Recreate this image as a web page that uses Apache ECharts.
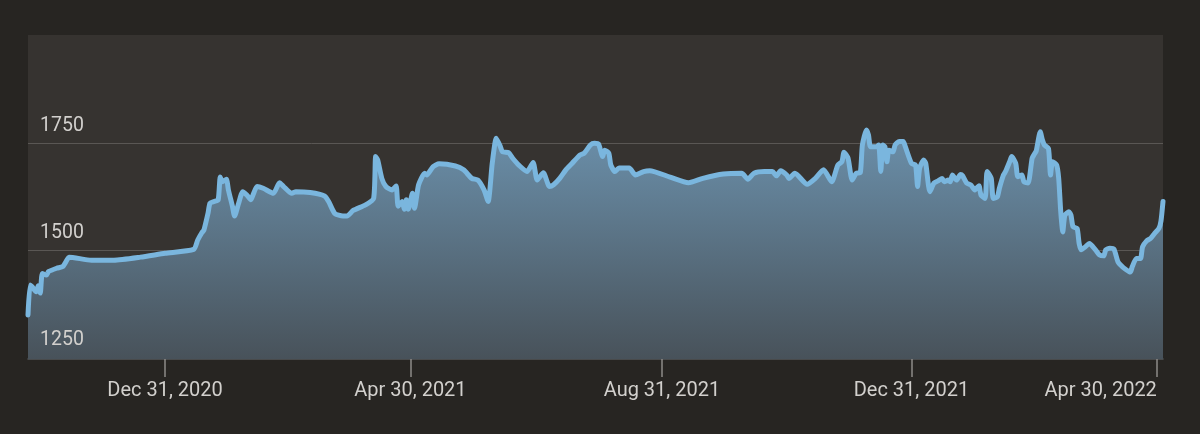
<!DOCTYPE html>
<html>
<head>
<meta charset="utf-8">
<script src="https://cdn.jsdelivr.net/npm/echarts@6/dist/echarts.min.js"></script>
<style>
  html, body { margin: 0; padding: 0; background: #272522; }
  #chart { width: 1200px; height: 434px; }
</style>
</head>
<body>
<div id="chart"></div>
<script>
// ---- data ----
const dates = [
  '2020-10-25','2020-10-26','2020-10-27','2020-10-29','2020-10-30','2020-10-31',
  '2020-11-01','2020-11-03','2020-11-04','2020-11-08','2020-11-11','2020-11-13','2020-11-14',
  '2020-11-25','2020-12-06','2020-12-19','2020-12-31',
  '2021-01-14','2021-01-16','2021-01-18','2021-01-19','2021-01-21','2021-01-22','2021-01-24',
  '2021-01-26','2021-01-27','2021-01-28','2021-01-30','2021-01-31',
  '2021-02-02','2021-02-03','2021-02-05','2021-02-07','2021-02-09','2021-02-11','2021-02-12',
  '2021-02-14','2021-02-17','2021-02-22','2021-02-25','2021-02-27',
  '2021-03-03','2021-03-05','2021-03-12','2021-03-19','2021-03-21','2021-03-24','2021-03-28','2021-03-30',
  '2021-04-02','2021-04-08','2021-04-12','2021-04-13','2021-04-14','2021-04-16','2021-04-18',
  '2021-04-21','2021-04-23','2021-04-24','2021-04-26','2021-04-27','2021-04-28','2021-04-29',
  '2021-05-01','2021-05-02','2021-05-04','2021-05-07','2021-05-08','2021-05-11','2021-05-14',
  '2021-05-22','2021-05-26','2021-05-30',
  '2021-06-02','2021-06-05','2021-06-07','2021-06-09','2021-06-11','2021-06-13','2021-06-14',
  '2021-06-17','2021-06-19','2021-06-22','2021-06-26','2021-06-29',
  '2021-07-01','2021-07-04','2021-07-07','2021-07-09','2021-07-12','2021-07-15','2021-07-18',
  '2021-07-22','2021-07-24','2021-07-27','2021-07-29','2021-07-31',
  '2021-08-02','2021-08-03','2021-08-05','2021-08-06','2021-08-08','2021-08-10','2021-08-15',
  '2021-08-18','2021-08-22','2021-08-25',
  '2021-09-04','2021-09-13','2021-09-20','2021-09-30',
  '2021-10-09','2021-10-12','2021-10-15','2021-10-20','2021-10-24','2021-10-26','2021-10-28','2021-10-31',
  '2021-11-01','2021-11-04','2021-11-10','2021-11-14','2021-11-18','2021-11-22','2021-11-25',
  '2021-11-27','2021-11-28','2021-11-30',
  '2021-12-02','2021-12-04','2021-12-06','2021-12-07','2021-12-09','2021-12-10','2021-12-11',
  '2021-12-14','2021-12-15','2021-12-16','2021-12-17','2021-12-18','2021-12-19','2021-12-20',
  '2021-12-22','2021-12-23','2021-12-25','2021-12-27','2021-12-28','2021-12-31',
  '2022-01-02','2022-01-03','2022-01-04','2022-01-06','2022-01-07','2022-01-09','2022-01-11',
  '2022-01-13','2022-01-15','2022-01-16','2022-01-18','2022-01-19','2022-01-20','2022-01-22',
  '2022-01-24','2022-01-25','2022-01-27','2022-01-29','2022-01-31',
  '2022-02-02','2022-02-03','2022-02-05','2022-02-06','2022-02-08','2022-02-09','2022-02-11',
  '2022-02-12','2022-02-14','2022-02-15','2022-02-17','2022-02-18','2022-02-20','2022-02-21',
  '2022-02-23','2022-02-24','2022-02-26','2022-02-28',
  '2022-03-01','2022-03-02','2022-03-04','2022-03-05','2022-03-06','2022-03-08','2022-03-09',
  '2022-03-10','2022-03-12','2022-03-13','2022-03-14','2022-03-15','2022-03-16','2022-03-18',
  '2022-03-19','2022-03-20','2022-03-22','2022-03-23','2022-03-24','2022-03-26','2022-03-28','2022-03-31',
  '2022-04-02','2022-04-04','2022-04-05','2022-04-07','2022-04-09','2022-04-11','2022-04-13',
  '2022-04-14','2022-04-17','2022-04-18','2022-04-20','2022-04-22','2022-04-23','2022-04-25',
  '2022-04-27','2022-04-29','2022-05-01','2022-05-02','2022-05-03'
];
const values = [
  1349,1419,1415,1403,1417,1400,
  1446,1442,1450,1458,1462,1477,1484,
  1477,1477,1484,1493,
  1502,1524,1541,1547,1586,1610,1614,
  1618,1671,1660,1666,1641,
  1602,1580,1610,1637,1629,1618,1629,
  1649,1645,1633,1658,1649,
  1633,1637,1635,1627,1614,1586,1580,1580,
  1593,1606,1621,1719,1711,1668,1649,
  1641,1650,1603,1614,1596,1618,1596,
  1633,1598,1653,1680,1676,1695,1702,
  1697,1688,1668,
  1664,1641,1614,1703,1762,1742,1730,
  1728,1715,1699,1684,1705,
  1664,1681,1649,1653,1668,1688,1703,
  1723,1727,1746,1750,1748,
  1719,1734,1727,1699,1684,1692,1692,
  1676,1684,1686,
  1671,1658,1668,1678,
  1680,1666,1680,1684,1684,1674,1686,1676,
  1668,1680,1654,1668,1688,1660,1699,
  1707,1729,1715,
  1664,1680,1682,1746,1781,1769,1742,
  1742,1746,1684,1746,1742,1707,1734,
  1730,1746,1754,1754,1742,1703,
  1699,1649,1692,1711,1703,1637,1657,
  1662,1668,1660,1664,1660,1676,1664,
  1677,1674,1657,1653,1641,
  1651,1629,1621,1684,1668,1621,1625,
  1645,1676,1684,1707,1719,1703,1672,
  1676,1660,1657,1715,
  1724,1732,1777,1758,1746,1738,1676,
  1707,1699,1668,1590,1543,1582,1590,
  1582,1555,1551,1516,1501,1508,1516,1501,
  1489,1487,1501,1505,1503,1473,1462,
  1458,1449,1462,1481,1481,1508,1522,
  1528,1540,1551,1568,1614
];
const xStart = '2020-10-25';
const xEnd = '2022-05-03';
const tickDates = ['2020-12-31','2021-04-30','2021-08-31','2021-12-31','2022-04-30'];
const tickLabels = ['Dec 31, 2020','Apr 30, 2021','Aug 31, 2021','Dec 31, 2021','Apr 30, 2022'];
const yTicks = [1250, 1500, 1750];
const yMin = 1246, yMax = 2003;

// ---- chart ----
const chart = echarts.init(document.getElementById('chart'));
const toTime = d => +echarts.time.parse(d);
const tickTimes = tickDates.map(toTime);
const seriesData = dates.map((d, i) => [toTime(d), values[i]]);
const FONT = 'Roboto, "Liberation Sans", sans-serif';

chart.setOption({
  backgroundColor: '#272522',
  animation: false,
  grid: {
    left: 28, right: 37, top: 35, bottom: 75,
    show: true, backgroundColor: '#363330', borderWidth: 0
  },
  xAxis: {
    type: 'value',
    min: toTime(xStart),
    max: toTime(xEnd),
    axisLine: { show: true, lineStyle: { color: '#55585b', width: 1.5 } },
    axisTick: {
      show: true, customValues: tickTimes, length: 18,
      lineStyle: { color: '#8d8b88', width: 1.5 }
    },
    axisLabel: {
      customValues: tickTimes,
      formatter: function (v) {
        const i = tickTimes.indexOf(+v);
        return i >= 0 ? tickLabels[i] : '';
      },
      color: '#d2d0cd', fontSize: 20, fontFamily: FONT, margin: 22, lineHeight: 20,
      alignMaxLabel: 'right'
    },
    splitLine: { show: false }
  },
  yAxis: {
    type: 'value',
    min: yMin, max: yMax,
    axisLine: { show: false },
    axisTick: { show: false, customValues: yTicks },
    axisLabel: { show: false, customValues: yTicks },
    splitLine: { show: true, lineStyle: { color: '#5a5754', width: 1 } }
  },
  series: [{
    type: 'line',
    data: seriesData,
    showSymbol: false,
    smooth: 0.2,
    lineStyle: { color: '#7ab6de', width: 5, join: 'round', cap: 'round' },
    areaStyle: {
      color: new echarts.graphic.LinearGradient(0, 0, 0, 1, [
        { offset: 0, color: '#6b90ab' },
        { offset: 1, color: '#48525a' }
      ]),
      opacity: 1
    },
    markLine: {
      silent: true,
      symbol: ['none', 'none'],
      lineStyle: { color: 'rgba(0,0,0,0)', width: 1, type: 'solid' },
      label: {
        show: true,
        position: 'insideStartTop',
        formatter: function (p) { return String(p.value); },
        color: '#d2d0cd', fontSize: 19.5, fontFamily: FONT,
        lineHeight: 20, distance: [12, 7]
      },
      data: yTicks.map(v => ({ yAxis: v }))
    }
  }]
});
</script>
</body>
</html>
